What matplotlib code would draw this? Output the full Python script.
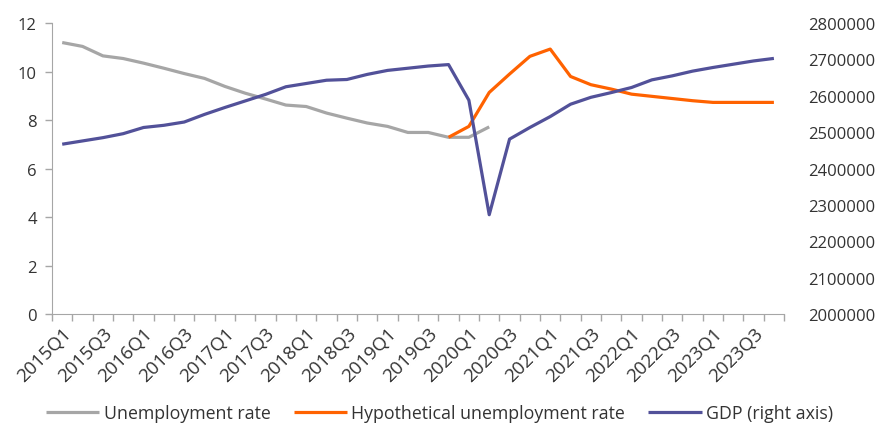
import matplotlib
matplotlib.use('Agg')
import matplotlib.pyplot as plt
import numpy as np

plt.rcParams['font.family'] = ['Open Sans', 'DejaVu Sans']

# quarterly series, 2015Q1 - 2023Q4
quarters = [f"{y}Q{q}" for y in range(2015, 2024) for q in range(1, 5)]

unemployment = [11.2, 11.04, 10.65, 10.54, 10.35, 10.14, 9.92, 9.72, 9.39, 9.11,
                8.87, 8.62, 8.56, 8.29, 8.08, 7.88, 7.74, 7.49, 7.49, 7.29,
                7.29, 7.72]

# hypothetical path starts at 2019Q4
hypo_start = 19
hypothetical = [7.29, 7.74, 9.14, 9.9, 10.63, 10.93, 9.8, 9.46, 9.28, 9.07,
                8.98, 8.89, 8.8, 8.73, 8.73, 8.73, 8.73]

gdp = [2467000, 2476000, 2485000, 2496000, 2513000, 2519000, 2528000, 2549000,
       2568000, 2586000, 2604000, 2625000, 2634000, 2643000, 2645000, 2659000,
       2670000, 2676000, 2682000, 2686000, 2588000, 2273000, 2481000, 2513000,
       2543000, 2577000, 2596000, 2609000, 2623000, 2644000, 2655000, 2668000,
       2678000, 2687000, 2696000, 2703000]

GREY = '#A6A6A6'
ORANGE = '#FF6200'
BLUE = '#525199'
TEXT = '#333333'

fig = plt.figure(figsize=(8.79, 4.39), dpi=100)
ax = fig.add_axes([0.0592, 0.2825, 0.8328, 0.6625])
ax2 = ax.twinx()

x = np.arange(len(quarters))
l1, = ax.plot(x[:len(unemployment)], unemployment, color=GREY, lw=2.3,
              label='Unemployment rate', solid_capstyle='butt')
l2, = ax.plot(x[hypo_start:hypo_start + len(hypothetical)], hypothetical,
              color=ORANGE, lw=2.3, label='Hypothetical unemployment rate',
              solid_capstyle='butt')
l3, = ax2.plot(x, gdp, color=BLUE, lw=2.3, label='GDP (right axis)',
               solid_capstyle='butt')

ax.set_xlim(-0.5, len(quarters) - 0.5)
ax.set_ylim(0, 12)
ax.set_yticks(range(0, 13, 2))
ax2.set_ylim(2000000, 2800000)
ax2.set_yticks(range(2000000, 2800001, 100000))
ax2.set_yticklabels([str(v) for v in range(2000000, 2800001, 100000)])

# labels on every other quarter, tick marks between categories
ax.set_xticks(x[::2])
ax.set_xticklabels(quarters[::2], rotation=45, ha='right', va='top',
                   rotation_mode='anchor')
ax.set_xticks(np.arange(-0.5, len(quarters), 1), minor=True)
ax.tick_params(axis='x', which='major', length=0, pad=7, labelsize=13.5,
               colors=TEXT)
ax.tick_params(axis='x', which='minor', length=5, color=GREY, width=1)
ax.tick_params(axis='y', length=5, color=GREY, width=1, labelsize=12,
               labelcolor=TEXT, pad=6)
ax2.tick_params(axis='y', length=0, labelsize=12, labelcolor=TEXT, pad=17)

for a in (ax, ax2):
    for s in ('top', 'right'):
        a.spines[s].set_visible(False)
ax2.spines['left'].set_visible(False)
ax2.spines['bottom'].set_visible(False)
ax.spines['left'].set_color(GREY)
ax.spines['bottom'].set_color(GREY)

fig.legend(handles=[l1, l2, l3], loc='lower center', ncol=3, frameon=False,
           bbox_to_anchor=(0.5, 0.0), fontsize=12.8, handlelength=3.0,
           columnspacing=1.3, handletextpad=0.25, labelcolor=TEXT)

fig.savefig('out.png', dpi=100)
